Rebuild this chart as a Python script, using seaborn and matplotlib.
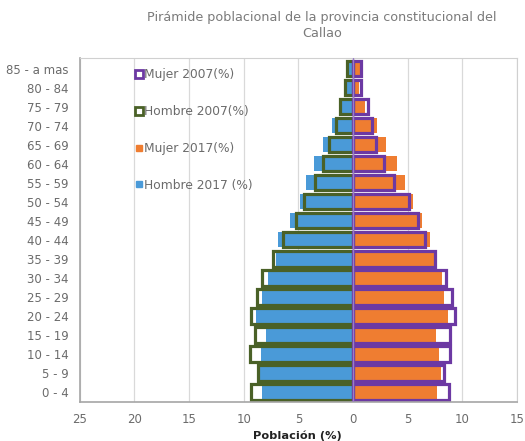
import matplotlib
matplotlib.use("Agg")
import matplotlib.pyplot as plt
from matplotlib.lines import Line2D
import pandas as pd
import numpy as np
import seaborn as sns

ages = ["85 - a mas", "80 - 84", "75 - 79", "70 - 74", "65 - 69", "60 - 64", "55 - 59",
        "50 - 54", "45 - 49", "40 - 44", "35 - 39", "30 - 34", "25 - 29", "20 - 24",
        "15 - 19", "10 - 14", "5 - 9", "0 - 4"]
hombre_2007 = [0.6, 0.7, 1.2, 1.6, 2.2, 2.8, 3.5, 4.5, 5.2, 6.4, 7.3, 8.3, 8.8, 9.3, 9.0, 9.4, 8.7, 9.3]
hombre_2017 = [0.45, 0.55, 1.1, 1.9, 2.8, 3.6, 4.35, 4.9, 5.8, 6.9, 7.1, 7.8, 8.3, 8.9, 8.0, 8.4, 8.5, 8.35]
mujer_2007 = [0.75, 0.7, 1.35, 1.7, 2.1, 2.8, 3.7, 5.1, 5.9, 6.6, 7.5, 8.5, 9.0, 9.3, 8.9, 8.9, 8.3, 8.8]
mujer_2017 = [0.6, 0.55, 1.1, 2.15, 3.0, 4.0, 4.7, 5.45, 6.3, 7.0, 7.4, 8.1, 8.35, 8.7, 7.55, 7.9, 8.0, 7.7]
xticks = [-25, -20, -15, -10, -5, 0, 5, 10, 15]
xticklabels = ["25", "20", "15", "10", "5", "0", "5", "10", "15"]

blue = "#4a9ad8"
orange = "#ef7d31"
green = "#4a6127"
purple = "#6c39a3"
grey = "#6b6b6b"

sns.set_style("white")
plt.rcParams['font.family'] = ['DejaVu Sans']

df = pd.DataFrame({"edad": ages,
                   "h07": -np.array(hombre_2007), "h17": -np.array(hombre_2017),
                   "m07": mujer_2007, "m17": mujer_2017})

fig = plt.figure(figsize=(5.25, 4.41), dpi=100)
ax = fig.add_axes([0.152, 0.088, 0.833, 0.78])

# 2017 filled bars
sns.barplot(data=df, x="h17", y="edad", order=ages, orient="h", color=blue,
            saturation=1, width=0.82, linewidth=0, ax=ax)
sns.barplot(data=df, x="m17", y="edad", order=ages, orient="h", color=orange,
            saturation=1, width=0.82, linewidth=0, ax=ax)
# 2007 outline bars
sns.barplot(data=df, x="h07", y="edad", order=ages, orient="h", color=green,
            saturation=1, width=0.82, fill=False, linewidth=2.3, ax=ax)
sns.barplot(data=df, x="m07", y="edad", order=ages, orient="h", color=purple,
            saturation=1, width=0.82, fill=False, linewidth=2.3, ax=ax)

ax.axvline(0, color="#9b7fc4", linewidth=1, zorder=5)
ax.set_xlim(-25, 15)
ax.set_ylim(17.55, -0.55)
ax.set_xticks(xticks)
ax.set_xticklabels(xticklabels)
ax.xaxis.grid(True, color="#d9d9d9", linewidth=0.9)
ax.set_axisbelow(True)
ax.tick_params(axis="both", length=0, colors=grey, labelsize=8.5)
ax.tick_params(axis="y", pad=8)
ax.tick_params(axis="x", pad=8)
ax.set_xlabel("")
ax.set_ylabel("")
for s in ["top", "right"]:
    ax.spines[s].set_color("#d0d0d0")
for s in ["left", "bottom"]:
    ax.spines[s].set_color("#a6a6a6")
    ax.spines[s].set_linewidth(1.2)

handles = [
    Line2D([], [], marker="s", linestyle="none", markersize=6, markerfacecolor="white",
           markeredgecolor=purple, markeredgewidth=2),
    Line2D([], [], marker="s", linestyle="none", markersize=6, markerfacecolor="white",
           markeredgecolor=green, markeredgewidth=2),
    Line2D([], [], marker="s", linestyle="none", markersize=5, color=orange),
    Line2D([], [], marker="s", linestyle="none", markersize=5, color=blue),
]
labels = ["Mujer 2007(%)", "Hombre 2007(%)", "Mujer 2017(%)", "Hombre 2017 (%)"]
leg = ax.legend(handles, labels, loc="upper left", bbox_to_anchor=(0.115, 0.985),
                frameon=False, fontsize=8.8, handlelength=0.6, handletextpad=0.1,
                labelspacing=1.95, borderaxespad=0)
for t in leg.get_texts():
    t.set_color(grey)

fig.text(0.613, 0.975, "Pirámide poblacional de la provincia constitucional del\nCallao",
         ha="center", va="top", fontsize=9.2, color="#7a7a7a", linespacing=1.25)
fig.text(0.567, 0.012, "Población (%)", ha="center", va="center", fontsize=8.2,
         fontweight="bold", color="#222222")

fig.savefig("out.png", dpi=100)
